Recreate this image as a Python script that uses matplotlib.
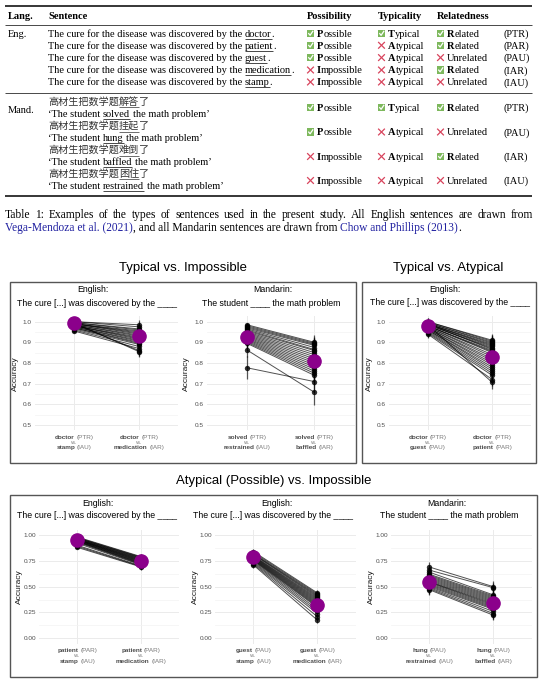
import matplotlib
matplotlib.use('Agg')
import matplotlib.pyplot as plt
from matplotlib.lines import Line2D
from matplotlib.patches import Rectangle

W, H = 546, 680
SERIF = ['Liberation Serif', 'DejaVu Serif']
SANS = ['Liberation Sans', 'DejaVu Sans']
CJK = ['Noto Sans CJK SC', 'DejaVu Sans']

# ---------------- table data ----------------
header = ["Lang.", "Sentence", "Possibility", "Typicality", "Relatedness"]
eng_prefix = "The cure for the disease was discovered by the"
eng_words = ["doctor", "patient", "guest", "medication", "stamp"]
eng_poss = [True, True, True, False, False]
eng_typ = [True, False, False, False, False]
eng_rel = [True, True, False, True, False]
eng_codes = ["(PTR)", "(PAR)", "(PAU)", "(IAR)", "(IAU)"]
mand_zh_prefix = "高材生把数学题"
mand_zh_verbs = ["解答", "挂起", "难倒", "困住"]
mand_zh_suffix = "了"
mand_en_verbs = ["solved", "hung", "baffled", "restrained"]
mand_poss = [True, True, False, False]
mand_typ = [True, False, False, False]
mand_rel = [True, False, True, False]
mand_codes = ["(PTR)", "(PAU)", "(IAR)", "(IAU)"]
caption1 = ("Table 1:  Examples of the types of sentences used in the present study.  "
            "All English sentences are drawn from")
caption2 = [("Vega-Mendoza et al. (2021)", True), (", and all Mandarin sentences are drawn from ", False),
            ("Chow and Phillips (2013)", True), (".", False)]

# ---------------- panel data ----------------
A_left = [1.00, 1.00, 0.995, 0.995, 0.99, 0.99, 0.99, 0.99, 0.985, 0.985, 0.98,
          0.98, 0.98, 0.975, 0.975, 0.97, 0.97, 0.965, 0.96, 0.955, 0.99, 0.995]
A_right = [0.985, 0.975, 0.965, 0.96, 0.955, 0.95, 0.945, 0.94, 0.935, 0.93, 0.925,
           0.92, 0.915, 0.91, 0.905, 0.90, 0.895, 0.89, 0.88, 0.87, 0.86, 0.855]
A_mean = [0.992, 0.932]

B_left = [0.985, 0.98, 0.975, 0.97, 0.965, 0.96, 0.955, 0.95, 0.945, 0.94, 0.935,
          0.93, 0.925, 0.92, 0.915, 0.91, 0.905, 0.90, 0.895, 0.863, 0.777]
B_right = [0.90, 0.895, 0.89, 0.885, 0.875, 0.865, 0.86, 0.85, 0.84, 0.83, 0.82,
           0.81, 0.80, 0.79, 0.78, 0.77, 0.76, 0.75, 0.74, 0.658, 0.71]
B_lerr = [0.01, 0.012, 0.014, 0.015, 0.016, 0.017, 0.018, 0.019, 0.02, 0.02, 0.021,
          0.022, 0.022, 0.023, 0.024, 0.025, 0.026, 0.027, 0.028, 0.035, 0.055]
B_rerr = [0.035, 0.032, 0.032, 0.033, 0.034, 0.035, 0.036, 0.037, 0.038, 0.039, 0.04,
          0.04, 0.041, 0.042, 0.043, 0.044, 0.045, 0.046, 0.047, 0.062, 0.05]
B_mean = [0.927, 0.81]

C_left = [1.00, 1.00, 0.995, 0.995, 0.99, 0.99, 0.99, 0.985, 0.985, 0.98, 0.98, 0.98, 0.975,
          0.975, 0.97, 0.97, 0.965, 0.965, 0.96, 0.96, 0.955, 0.95, 0.945, 0.94, 0.985, 0.99]
C_right = [0.91, 0.905, 0.90, 0.895, 0.89, 0.885, 0.88, 0.875, 0.87, 0.86, 0.855, 0.85, 0.84,
           0.83, 0.82, 0.81, 0.80, 0.79, 0.78, 0.77, 0.76, 0.75, 0.74, 0.72, 0.706, 0.865]
C_mean = [0.978, 0.83]

D_left = [0.98, 0.975, 0.97, 0.97, 0.965, 0.96, 0.96, 0.955, 0.955, 0.95,
          0.95, 0.945, 0.94, 0.94, 0.935, 0.93, 0.92, 0.90, 0.89, 0.88]
D_right = [0.79, 0.785, 0.78, 0.775, 0.77, 0.765, 0.76, 0.755, 0.75, 0.745,
           0.74, 0.735, 0.73, 0.725, 0.72, 0.715, 0.71, 0.70, 0.695, 0.69]
D_mean = [0.955, 0.748]

E_left = [0.84, 0.83, 0.82, 0.815, 0.81, 0.80, 0.795, 0.79, 0.785, 0.78,
          0.775, 0.77, 0.765, 0.76, 0.755, 0.75, 0.74, 0.73, 0.72, 0.71]
E_right = [0.44, 0.43, 0.42, 0.41, 0.40, 0.39, 0.38, 0.37, 0.36, 0.35,
           0.34, 0.33, 0.32, 0.31, 0.30, 0.28, 0.26, 0.24, 0.21, 0.177]
E_mean = [0.784, 0.322]

F_left = [0.69, 0.66, 0.64, 0.62, 0.61, 0.60, 0.59, 0.58, 0.57, 0.56,
          0.55, 0.545, 0.54, 0.53, 0.52, 0.51, 0.50, 0.49, 0.48, 0.47]
F_right = [0.50, 0.49, 0.42, 0.41, 0.40, 0.39, 0.38, 0.37, 0.36, 0.35,
           0.34, 0.33, 0.32, 0.31, 0.30, 0.29, 0.28, 0.26, 0.24, 0.224]
F_mean = [0.545, 0.342]

top_ticks = [0.5, 0.6, 0.7, 0.8, 0.9, 1.0]
top_minor = [0.55, 0.65, 0.75, 0.85, 0.95]
bot_ticks = [0.0, 0.25, 0.5, 0.75, 1.0]
bot_minor = [0.125, 0.375, 0.625, 0.875]

group_titles = ["Typical vs. Impossible", "Typical vs. Atypical", "Atypical (Possible) vs. Impossible"]
eng_title = ("English:", "The cure [...] was discovered by the ____")
mand_title = ("Mandarin:", "The student ____ the math problem")

# ---------------- helpers ----------------
fig = plt.figure(figsize=(W / 100, H / 100), dpi=100)
renderer = fig.canvas.get_renderer()


def _w(s, props):
    t = fig.text(0, 0, s, **props)
    w = t.get_window_extent(renderer=renderer).width
    t.remove()
    return w


def measure(s, props):
    return _w('|' + s + '|', props) - _w('||', props)


def fit(s, target, props):
    p = dict(props)
    p['fontsize'] = 10
    return 10 * target / measure(s, p)


def hline(x0, x1, y, lw=0.6, color='black'):
    fig.add_artist(Line2D([x0 / W, x1 / W], [1 - y / H, 1 - y / H],
                          transform=fig.transFigure, lw=lw, color=color,
                          solid_capstyle='butt'))


def draw_runs(x, y, parts, ha='left', va='baseline', ul_off=2.0):
    items = []
    total = 0.0
    for s, p in parts:
        p = dict(p)
        ul = p.pop('ul', False)
        ls = len(s) - len(s.lstrip(' '))
        ts = len(s) - len(s.rstrip(' '))
        core = s.strip(' ')
        sp = measure(' ', p) if (ls or ts) else 0.0
        wc = measure(core, p) if core else 0.0
        items.append((ls * sp, core, wc, ts * sp, p, ul))
        total += ls * sp + wc + ts * sp
    cur = x if ha == 'left' else (x - total / 2 if ha == 'center' else x - total)
    for lsw, core, wc, tsw, p, ul in items:
        cur += lsw
        if core:
            fig.text(cur / W, 1 - y / H, core, ha='left', va=va, **p)
            if ul:
                hline(cur, cur + wc, y + ul_off, lw=0.5, color=p.get('color', 'black'))
        cur += wc + tsw
    return cur


def check_icon(x, yc):
    s = 7.4
    fig.add_artist(Rectangle((x / W, 1 - (yc + s / 2) / H), s / W, s / H,
                             transform=fig.transFigure, facecolor='#7db85c',
                             edgecolor='none'))
    fig.add_artist(Line2D([(x + 1.7) / W, (x + 3.1) / W, (x + 5.8) / W],
                          [1 - (yc + 0.1) / H, 1 - (yc + 1.8) / H, 1 - (yc - 2.2) / H],
                          transform=fig.transFigure, color='white', lw=0.9))


def cross_icon(x, yc):
    s = 5.8
    c = '#d8435c'
    x0, x1 = x + 0.6, x + 0.6 + s
    fig.add_artist(Line2D([x0 / W, x1 / W], [1 - (yc - s / 2) / H, 1 - (yc + s / 2) / H],
                          transform=fig.transFigure, color=c, lw=0.9))
    fig.add_artist(Line2D([x0 / W, x1 / W], [1 - (yc + s / 2) / H, 1 - (yc - s / 2) / H],
                          transform=fig.transFigure, color=c, lw=0.9))


# ---------------- table ----------------
serif = dict(family=SERIF, color='black')
TS = fit(eng_prefix + " doctor.", 225.5, serif)
tx = dict(serif, fontsize=TS)
tb = dict(serif, fontsize=TS, weight='bold')
zh = dict(family=CJK, color='#333333', fontsize=fit("高材生把数学题解答了", 101, dict(family=CJK)))
BL = 3.4  # baseline offset from visual centre

XL, XS, XP, XT, XR, XC = 7.5, 48, 307, 378, 437, 504
TABLE_X0, TABLE_X1 = 5, 532

hline(TABLE_X0, TABLE_X1, 6.0, lw=1.1)
for xh, lab in zip([XL, XS, XP, XT, XR], header):
    draw_runs(xh, 15.5 + BL, [(lab, tb)])
hline(TABLE_X0, TABLE_X1, 24.8, lw=0.5)


def attr_cells(yc, poss, typ, rel, code):
    (check_icon if poss else cross_icon)(XP, yc)
    w = "Possible" if poss else "Impossible"
    draw_runs(XP + 10, yc + BL, [(w[0], tb), (w[1:], tx)])
    (check_icon if typ else cross_icon)(XT, yc)
    w = "Typical" if typ else "Atypical"
    draw_runs(XT + 10, yc + BL, [(w[0], tb), (w[1:], tx)])
    (check_icon if rel else cross_icon)(XR, yc)
    if rel:
        draw_runs(XR + 10, yc + BL, [("R", tb), ("elated", tx)])
    else:
        draw_runs(XR + 10, yc + BL, [("Unrelated", tx)])
    draw_runs(XC, yc + BL, [(code, tx)])


eng_y = [33.5, 45.3, 57.6, 70.0, 82.0]
draw_runs(XL, eng_y[0] + BL, [("Eng.", tx)])
for i, word in enumerate(eng_words):
    draw_runs(XS, eng_y[i] + BL, [(eng_prefix + " ", tx), (word, dict(tx, ul=True)), (".", tx)])
    attr_cells(eng_y[i], eng_poss[i], eng_typ[i], eng_rel[i], eng_codes[i])
hline(TABLE_X0, TABLE_X1, 92.5, lw=0.5)

zh_y = [101.0, 125.5, 149.5, 173.5]
en_y = [113.5, 137.8, 162.0, 186.0]
lab_y = [107.5, 132.0, 156.5, 180.5]
draw_runs(XL, 109.5 + BL, [("Mand.", tx)])
for i in range(4):
    draw_runs(XS, zh_y[i] + 3.6, [(mand_zh_prefix, zh), (mand_zh_verbs[i], dict(zh, ul=True)),
                                   (mand_zh_suffix, zh)], ul_off=2.4)
    draw_runs(XS, en_y[i] + BL, [("\u2018The student ", tx), (mand_en_verbs[i], dict(tx, ul=True)),
                                  (" the math problem\u2019", tx)])
    attr_cells(lab_y[i], mand_poss[i], mand_typ[i], mand_rel[i], mand_codes[i])
hline(TABLE_X0, TABLE_X1, 196.0, lw=1.1)

# ---------------- caption ----------------
blue = '#2020a0'
cap_plain = ''.join(s for s, _ in caption2)
CS = fit(cap_plain, 460, serif)
cp = dict(serif, fontsize=CS)
words = caption1.split(' ')
words = [w for w in words if w != '']
ws = [measure(w, cp) for w in words]
gap = (528 - sum(ws)) / (len(words) - 1)
cx = 5.0
for w, wd in zip(words, ws):
    fig.text(cx / W, 1 - (215 + BL) / H, w, ha='left', va='baseline', **cp)
    cx += wd + gap
draw_runs(5.0, 227.5 + BL, [(s, dict(cp, color=blue) if isb else cp) for s, isb in caption2])

# ---------------- panels ----------------
sans = dict(family=SANS, color='black')
GT = fit(group_titles[0], 128, sans)
PT = fit(eng_title[1], 161, sans)
TICK = 4.6
LAB = 6.0
purple = '#8b008b'


def xlabel_block(xc, y1, yv, y2, w1, c1, w2, c2):
    bold = dict(family=SANS, fontsize=TICK, weight='bold', color='#4d4d4d')
    norm = dict(family=SANS, fontsize=TICK, color='#7a7a7a')
    draw_runs(xc, y1 + 1.7, [(w1, bold), (" (" + c1 + ")", norm)], ha='center')
    draw_runs(xc, yv + 1.2, [("vs.", dict(norm, fontsize=3.6))], ha='center')
    draw_runs(xc, y2 + 1.7, [(w2, bold), (" (" + c2 + ")", norm)], ha='center')


def draw_panel(px, ylim, major, minor, fmt, L, R, lerr, rerr, means, xlabs, xlab_y,
               titles, title_pos):
    x0, x1, y0, y1 = px
    ax = fig.add_axes([x0 / W, 1 - y1 / H, (x1 - x0) / W, (y1 - y0) / H])
    ax.set_facecolor('none')
    ax.set_xlim(0.4, 2.6)
    ax.set_ylim(*ylim)
    for sp in ax.spines.values():
        sp.set_visible(False)
    ax.set_xticks([1, 2])
    ax.set_xticklabels([])
    ax.set_yticks(major)
    ax.set_yticklabels([fmt.format(v) for v in major])
    ax.set_yticks(minor, minor=True)
    ax.tick_params(which='both', length=0)
    ax.tick_params(axis='y', labelsize=TICK, labelcolor='#4d4d4d', pad=2.2)
    for lab in ax.get_yticklabels():
        lab.set_family(SANS)
    ax.set_axisbelow(True)
    ax.grid(True, which='major', color='#ebebeb', lw=0.7)
    ax.grid(True, which='minor', axis='y', color='#f3f3f3', lw=0.5)
    for l, r in zip(L, R):
        ax.plot([1, 2], [l, r], color='black', lw=0.7, alpha=0.68, zorder=2)
    ax.errorbar([1] * len(L), L, yerr=lerr, fmt='none', ecolor='black', elinewidth=0.9,
                alpha=0.65, zorder=3)
    ax.errorbar([2] * len(R), R, yerr=rerr, fmt='none', ecolor='black', elinewidth=0.9,
                alpha=0.65, zorder=3)
    ax.scatter([1] * len(L), L, s=15, color='black', alpha=0.8, lw=0, zorder=4)
    ax.scatter([2] * len(R), R, s=15, color='black', alpha=0.8, lw=0, zorder=4)
    ax.plot([1, 2], means, 'o', ls='none', ms=9.5, color=purple, zorder=5)
    fig.text((x0 - 20) / W, 1 - ((y0 + y1) / 2) / H, "Accuracy", rotation=90, ha='center',
             va='center', fontsize=LAB, family=SANS, color='#1a1a1a')
    unit = (x1 - x0) / 2.2
    for k, (w1, c1, w2, c2) in enumerate(xlabs):
        xc = x0 + unit * (0.6 + k)
        xlabel_block(xc, xlab_y[0], xlab_y[1], xlab_y[2], w1, c1, w2, c2)
    (t1x, t1y), (t2x, t2y) = title_pos
    fig.text(t1x / W, 1 - t1y / H, titles[0], ha='center', va='center', fontsize=PT, **sans)
    fig.text(t2x / W, 1 - t2y / H, titles[1], ha='center', va='center', fontsize=PT, **sans)


TOP_LIM = (0.475, 1.025)
BOT_LIM = (-0.05, 1.05)
top_y = (316.5, 430.2)
bot_y = (529.8, 643.5)
top_xl = (437, 442.3, 447.7)
bot_xl = (650, 655.7, 661.7)

draw_panel((35, 178) + top_y, TOP_LIM, top_ticks, top_minor, "{:.1f}", A_left, A_right, 0.01, 0.025,
           A_mean, [("doctor", "PTR", "stamp", "IAU"), ("doctor", "PTR", "medication", "IAR")],
           top_xl, eng_title, ((93.3, 290), (96.7, 303)))
draw_panel((206.5, 355) + top_y, TOP_LIM, top_ticks, top_minor, "{:.1f}", B_left, B_right, B_lerr,
           B_rerr, B_mean, [("solved", "PTR", "restrained", "IAU"), ("solved", "PTR", "baffled", "IAR")],
           top_xl, mand_title, ((272.7, 290), (270.7, 303)))
draw_panel((389, 531) + top_y, TOP_LIM, top_ticks, top_minor, "{:.1f}", C_left, C_right, 0.017, 0.03,
           C_mean, [("doctor", "PTR", "guest", "PAU"), ("doctor", "PTR", "patient", "PAR")],
           top_xl, eng_title, ((445, 289.5), (450, 302.7)))
draw_panel((39, 179.5) + bot_y, BOT_LIM, bot_ticks, bot_minor, "{:.2f}", D_left, D_right, 0.02, 0.025,
           D_mean, [("patient", "PAR", "stamp", "IAU"), ("patient", "PAR", "medication", "IAR")],
           bot_xl, eng_title, ((97.6, 503.3), (97, 516)))
draw_panel((215, 355.6) + bot_y, BOT_LIM, bot_ticks, bot_minor, "{:.2f}", E_left, E_right, 0.025, 0.03,
           E_mean, [("guest", "PAU", "stamp", "IAU"), ("guest", "PAU", "medication", "IAR")],
           bot_xl, eng_title, ((277, 503.3), (272.7, 516)))
draw_panel((391, 531.7) + bot_y, BOT_LIM, bot_ticks, bot_minor, "{:.2f}", F_left, F_right, 0.05, 0.05,
           F_mean, [("hung", "PAU", "restrained", "IAU"), ("hung", "PAU", "baffled", "IAR")],
           bot_xl, mand_title, ((447.3, 503.3), (448.7, 516)))

# group titles and boxes
for (cx_, cy_), t in zip([(183.3, 268), (448, 268), (273.5, 481)], group_titles):
    fig.text(cx_ / W, 1 - cy_ / H, t, ha='center', va='center', fontsize=GT, **sans)
for bx0, by0, bx1, by1 in [(10, 282, 356, 463), (362, 282, 536, 463), (10, 495, 537, 677)]:
    fig.add_artist(Rectangle((bx0 / W, 1 - by1 / H), (bx1 - bx0) / W, (by1 - by0) / H,
                             transform=fig.transFigure, facecolor='none', edgecolor='#555555',
                             lw=1.0))

fig.savefig('out.png', dpi=100)
